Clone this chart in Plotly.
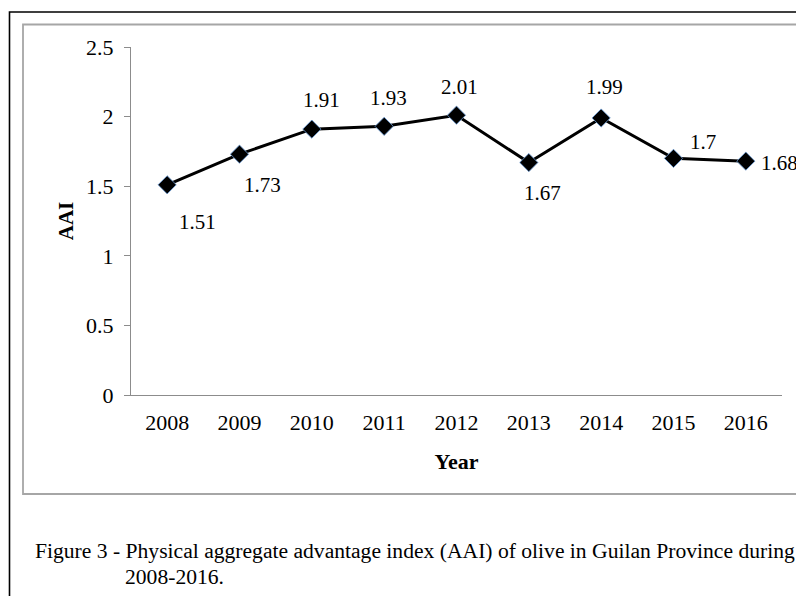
import plotly.graph_objects as go

years = [2008, 2009, 2010, 2011, 2012, 2013, 2014, 2015, 2016]
aai = [1.51, 1.73, 1.91, 1.93, 2.01, 1.67, 1.99, 1.70, 1.68]
labels = ["1.51", "1.73", "1.91", "1.93", "2.01", "1.67", "1.99", "1.7", "1.68"]
y_ticks = [0, 0.5, 1, 1.5, 2, 2.5]
y_ticktext = ["0", "0.5", "1", "1.5", "2", "2.5"]

# label offsets (pixels) relative to each point
label_dx = [30, 23, 10, 4, 3, 14, 3, 29, 34]
label_dy = [-37, -31, 29, 28, 28, -30, 31, 16, -2]

FONT = "Liberation Serif, Times New Roman, serif"
OFF = 8  # page body margin
W, H = 796, 588
L, R, T, B = 123, 22, 39, 201
PW, PH = W - L - R, H - T - B

def px(x):
    # page pixel -> paper coordinate
    return (x - OFF - L) / PW

def py(y):
    return (H - B - (y - OFF)) / PH

fig = go.Figure()
fig.add_trace(go.Scatter(
    x=years, y=aai, mode="lines+markers",
    line=dict(color="black", width=3),
    marker=dict(symbol="diamond", size=14, color="black",
                line=dict(color="#6a9bd6", width=0.8)),
    hoverinfo="x+y", showlegend=False,
))

for x, y, t, dx, dy in zip(years, aai, labels, label_dx, label_dy):
    fig.add_annotation(x=x, y=y, text=t, showarrow=False,
                       xshift=dx, yshift=dy,
                       font=dict(family=FONT, size=21, color="black"))

# outer black border and inner grey chart frame
fig.add_shape(type="rect", xref="paper", yref="paper",
              x0=px(9.5), x1=px(830), y0=py(12), y1=py(640),
              line=dict(color="black", width=1.6), layer="below")
fig.add_shape(type="rect", xref="paper", yref="paper",
              x0=px(23), x1=px(830), y0=py(24.5), y1=py(494),
              line=dict(color="#a6a6a6", width=1.8), layer="below")

# caption
fig.add_annotation(xref="paper", yref="paper", x=px(33), y=py(551),
                   xanchor="left", yanchor="middle", showarrow=False,
                   text="Figure 3 - Physical aggregate advantage index (AAI) of olive in Guilan Province during",
                   font=dict(family=FONT, size=21.6, color="black"))
fig.add_annotation(xref="paper", yref="paper", x=px(123), y=py(577),
                   xanchor="left", yanchor="middle", showarrow=False,
                   text="2008-2016.",
                   font=dict(family=FONT, size=21.6, color="black"))

fig.update_layout(
    width=W, height=H,
    margin=dict(l=L, r=R, t=T, b=B),
    paper_bgcolor="white", plot_bgcolor="white",
    font=dict(family=FONT, size=21, color="black"),
    xaxis=dict(
        range=[2007.5, 2016.5], tickvals=years,
        ticktext=[str(y) for y in years],
        showline=True, linecolor="#8c8c8c", linewidth=1.2,
        ticks="", showgrid=False, zeroline=False,
        ticklabelstandoff=7,
        tickfont=dict(family=FONT, size=22, color="black"),
        title=dict(text="<b>Year</b>", standoff=20,
                   font=dict(family=FONT, size=22, color="black")),
        automargin=False,
    ),
    yaxis=dict(
        range=[0, 2.5], tickvals=y_ticks, ticktext=y_ticktext,
        showline=True, linecolor="#8c8c8c", linewidth=1.2,
        ticks="outside", ticklen=6, tickcolor="#8c8c8c", tickwidth=1.2,
        showgrid=False, zeroline=False,
        ticklabelstandoff=6,
        tickfont=dict(family=FONT, size=22, color="black"),
        title=dict(text="<b>AAI</b>", standoff=6,
                   font=dict(family=FONT, size=21, color="black")),
        automargin=False,
    ),
)

fig.write_html("out.html")
